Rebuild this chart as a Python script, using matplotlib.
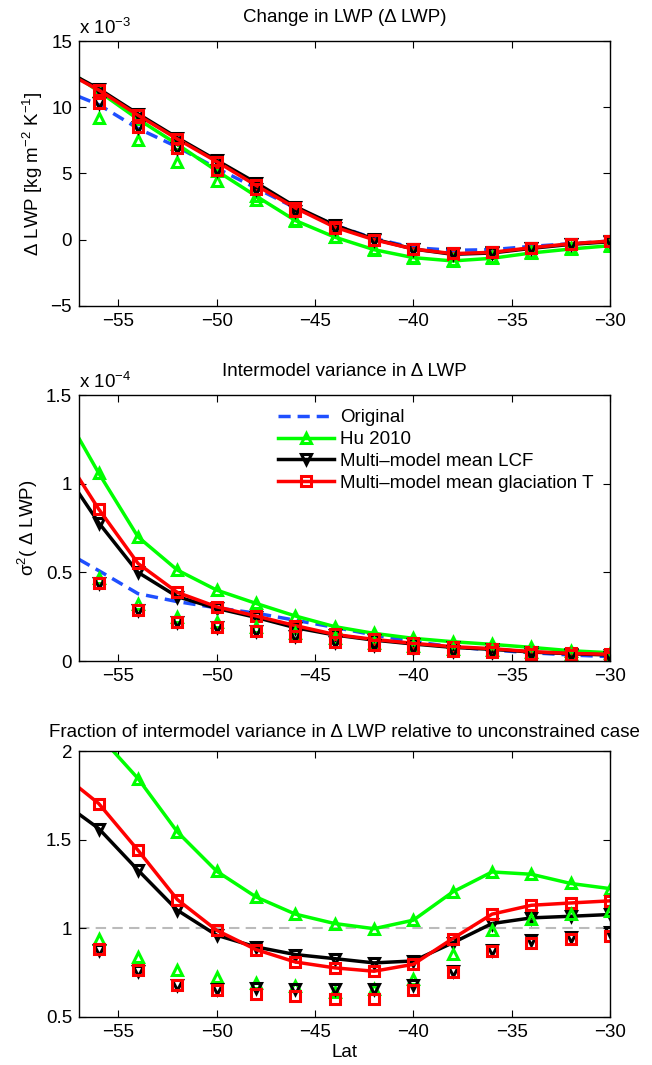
import numpy as np
import matplotlib.pyplot as plt

plt.rcParams['font.family'] = ['Liberation Sans', 'DejaVu Sans']
plt.rcParams['mathtext.fontset'] = 'custom'
plt.rcParams['mathtext.rm'] = 'Liberation Sans'

# latitude (first point is the left edge, markers on the others)
lat = [-57, -56, -54, -52, -50, -48, -46, -44, -42, -40, -38, -36, -34, -32, -30]
lat_pts = lat[1:]

# panel 1: change in LWP (x 1e-3)
dlwp_orig = [10.8, 10.2, 8.4, 7.0, 5.4, 3.9, 2.4, 1.1, 0.1, -0.6, -0.8, -0.75, -0.5, -0.3, -0.1]
dlwp_hu = [12.2, 11.2, 9.1, 7.2, 5.2, 3.3, 1.45, 0.2, -0.75, -1.35, -1.6, -1.4, -1.0, -0.7, -0.45]
dlwp_lcf = [12.2, 11.4, 9.5, 7.7, 6.0, 4.3, 2.5, 1.1, 0.05, -0.7, -1.1, -1.0, -0.65, -0.35, -0.15]
dlwp_glac = [12.1, 11.3, 9.4, 7.6, 5.9, 4.1, 2.4, 0.95, 0.0, -0.7, -1.05, -0.95, -0.6, -0.3, -0.1]
dlwp_hu_b = [9.2, 7.5, 5.9, 4.4, 3.0, 1.5, 0.2, -0.7, -1.3, -1.5, -1.3, -0.9, -0.6, -0.4]
dlwp_lcf_b = [10.3, 8.5, 6.9, 5.3, 3.8, 2.2, 0.9, 0.0, -0.7, -1.0, -0.9, -0.6, -0.3, -0.1]
dlwp_glac_b = [10.3, 8.5, 6.9, 5.3, 3.8, 2.2, 0.9, 0.0, -0.7, -1.0, -0.9, -0.6, -0.3, -0.1]

# panel 2: intermodel variance (x 1e-4)
var_orig = [0.573, 0.51, 0.38, 0.335, 0.30, 0.27, 0.23, 0.19, 0.147, 0.11, 0.08, 0.062, 0.047, 0.034, 0.025]
var_hu = [1.255, 1.06, 0.70, 0.513, 0.40, 0.325, 0.254, 0.194, 0.156, 0.128, 0.109, 0.094, 0.077, 0.058, 0.047]
var_lcf = [0.945, 0.78, 0.50, 0.363, 0.297, 0.246, 0.188, 0.147, 0.118, 0.096, 0.077, 0.066, 0.051, 0.041, 0.034]
var_glac = [1.03, 0.857, 0.55, 0.387, 0.306, 0.254, 0.20, 0.15, 0.122, 0.10, 0.081, 0.07, 0.053, 0.043, 0.038]
var_hu_b = [0.47, 0.32, 0.25, 0.22, 0.19, 0.16, 0.13, 0.10, 0.085, 0.07, 0.06, 0.05, 0.04, 0.03]
var_lcf_b = [0.44, 0.29, 0.22, 0.19, 0.17, 0.14, 0.11, 0.09, 0.072, 0.058, 0.05, 0.04, 0.032, 0.025]
var_glac_b = [0.44, 0.29, 0.22, 0.19, 0.17, 0.14, 0.11, 0.09, 0.072, 0.058, 0.05, 0.04, 0.032, 0.025]

# panel 3: fraction relative to unconstrained case
frac_hu = [2.22, 2.09, 1.845, 1.544, 1.322, 1.177, 1.08, 1.027, 0.998, 1.046, 1.205, 1.318, 1.305, 1.253, 1.224]
frac_lcf = [1.644, 1.563, 1.328, 1.102, 0.961, 0.895, 0.852, 0.829, 0.805, 0.816, 0.918, 1.027, 1.059, 1.068, 1.078]
frac_glac = [1.793, 1.704, 1.44, 1.162, 0.989, 0.88, 0.81, 0.777, 0.758, 0.797, 0.942, 1.08, 1.13, 1.143, 1.155]
frac_hu_b = [0.942, 0.839, 0.763, 0.726, 0.692, 0.675, 0.64, 0.66, 0.716, 0.857, 0.993, 1.05, 1.08, 1.097]
frac_lcf_b = [0.88, 0.76, 0.68, 0.66, 0.664, 0.66, 0.66, 0.656, 0.683, 0.76, 0.876, 0.936, 0.95, 0.98]
frac_glac_b = [0.886, 0.763, 0.683, 0.65, 0.632, 0.617, 0.603, 0.603, 0.654, 0.754, 0.873, 0.918, 0.942, 0.955]

GREEN = '#00ff00'
BLUE = '#1f4fff'
FS = 13.5

fig = plt.figure(figsize=(6.52, 10.65), dpi=100)
left, width = 0.1212, 0.8144
ax1 = fig.add_axes([left, 0.7127, width, 0.2488])
ax2 = fig.add_axes([left, 0.3793, width, 0.2498])
ax3 = fig.add_axes([left, 0.0451, width, 0.2497])

mk = dict(markersize=7.5, markeredgewidth=2.2, markerfacecolor='none')


def draw(ax, orig, hu, lcf, glac, hu_b, lcf_b, glac_b):
    hs = []
    every = list(range(1, len(lat)))
    if orig is not None:
        h, = ax.plot(lat, orig, '--', color=BLUE, lw=2.5, dashes=(3.5, 2), label='Original')
        hs.append(h)
    h, = ax.plot(lat, hu, '-', color=GREEN, lw=2.5, marker='^', markevery=every,
                 markeredgecolor=GREEN, label='Hu 2010', **mk)
    hs.append(h)
    h, = ax.plot(lat, lcf, '-', color='black', lw=2.5, marker='v', markevery=every,
                 markeredgecolor='black', label='Multi\u2013model mean LCF', **mk)
    hs.append(h)
    h, = ax.plot(lat, glac, '-', color='red', lw=2.5, marker='s', markevery=every,
                 markeredgecolor='red', label='Multi\u2013model mean glaciation T', **mk)
    hs.append(h)
    ax.plot(lat_pts, hu_b, linestyle='none', marker='^', markeredgecolor=GREEN, **mk)
    ax.plot(lat_pts, lcf_b, linestyle='none', marker='v', markeredgecolor='black', **mk)
    ax.plot(lat_pts, glac_b, linestyle='none', marker='s', markeredgecolor='red', **mk)
    ax.set_xlim(-57, -30)
    ax.set_xticks([-55, -50, -45, -40, -35, -30])
    ax.set_xticklabels(['\u221255', '\u221250', '\u221245', '\u221240', '\u221235', '\u221230'])
    ax.tick_params(direction='in', top=True, right=True, length=5, width=0.8, labelsize=FS, pad=5)
    for s in ax.spines.values():
        s.set_linewidth(1.0)
    return hs


draw(ax1, dlwp_orig, dlwp_hu, dlwp_lcf, dlwp_glac, dlwp_hu_b, dlwp_lcf_b, dlwp_glac_b)
ax1.set_ylim(-5, 15)
ax1.set_yticks([-5, 0, 5, 10, 15])
ax1.set_yticklabels(['\u22125', '0', '5', '10', '15'])
ax1.set_title('Change in LWP (\u0394 LWP)', fontsize=FS, pad=14)
ax1.set_ylabel('\u0394 LWP [kg m$^{-2}$ K$^{-1}$]', fontsize=FS, labelpad=4)
ax1.text(0.0, 1.012, 'x 10$^{-3}$', transform=ax1.transAxes, fontsize=FS, ha='left', va='bottom')

hs = draw(ax2, var_orig, var_hu, var_lcf, var_glac, var_hu_b, var_lcf_b, var_glac_b)
ax2.set_ylim(0, 1.5)
ax2.set_yticks([0, 0.5, 1, 1.5])
ax2.set_yticklabels(['0', '0.5', '1', '1.5'])
ax2.set_title('Intermodel variance in \u0394 LWP', fontsize=FS, pad=14)
ax2.set_ylabel('\u03c3$^2$( \u0394 LWP)', fontsize=FS, labelpad=4)
ax2.text(0.0, 1.012, 'x 10$^{-4}$', transform=ax2.transAxes, fontsize=FS, ha='left', va='bottom')
ax2.legend(handles=hs, loc='upper left', bbox_to_anchor=(0.36, 0.975), frameon=False,
           fontsize=FS, handlelength=3.0, handletextpad=0.35, labelspacing=0.25, numpoints=1,
           borderaxespad=0)

ax3.axhline(1.0, color='#bbbbbb', lw=1.5, ls='--', dashes=(5, 3), zorder=1)
draw(ax3, None, frac_hu, frac_lcf, frac_glac, frac_hu_b, frac_lcf_b, frac_glac_b)
ax3.set_ylim(0.5, 2)
ax3.set_yticks([0.5, 1, 1.5, 2])
ax3.set_yticklabels(['0.5', '1', '1.5', '2'])
ax3.set_title('Fraction of intermodel variance in \u0394 LWP relative to unconstrained case',
              fontsize=FS, pad=10)
ax3.set_xlabel('Lat', fontsize=FS, labelpad=2)

fig.savefig('out.png', dpi=100)
